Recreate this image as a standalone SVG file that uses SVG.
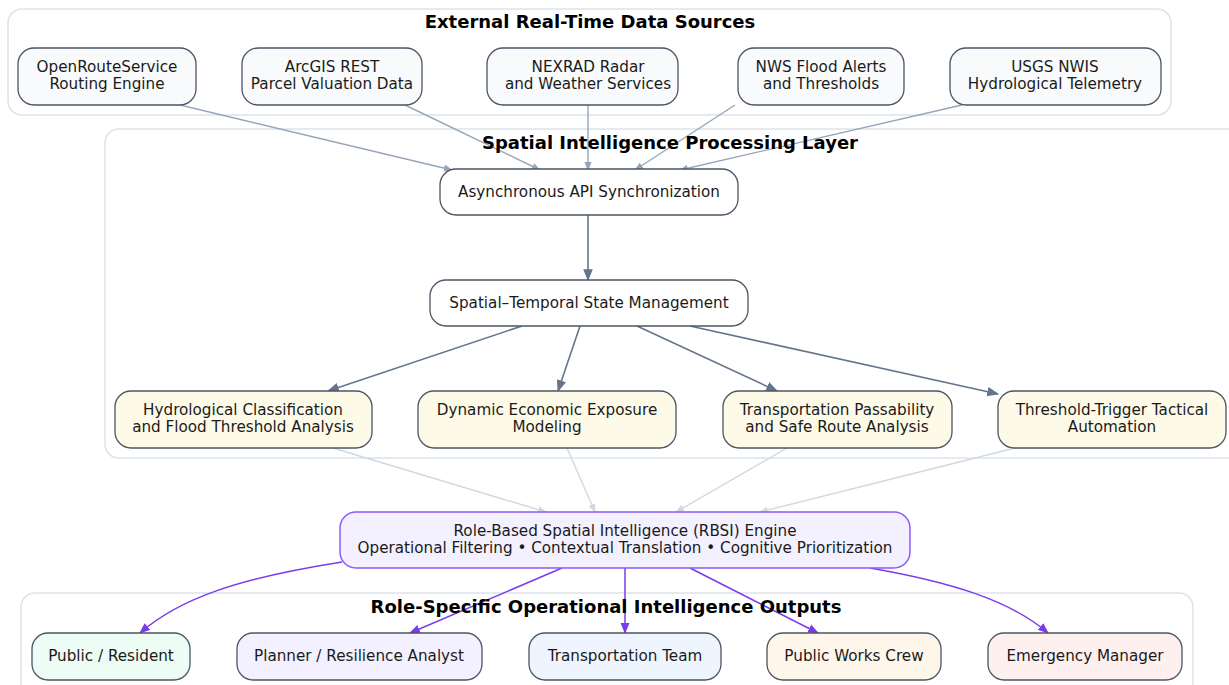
<svg xmlns="http://www.w3.org/2000/svg" width="1229" height="685" viewBox="0 0 1229 685">
<defs>
<style>
text{font-family:"DejaVu Sans",Verdana,sans-serif;font-size:15.2px;fill:#1a1a1a;text-anchor:middle}
.title{font-weight:bold;font-size:18px;fill:#000}
.cl{fill:#fff;stroke:#dde3ea;stroke-width:1.5}
.n{stroke:#4b5563;stroke-width:1.3}
.src{fill:#f8fafc}
.proc{fill:#fff}
.ana{fill:#fefae8}
.rbsi{fill:#f3f0ff;stroke:#8b5cf6;stroke-width:1.5}
.e1{stroke:#97a5ba;stroke-width:1.4;fill:none;marker-end:url(#a1)}
.e2{stroke:#64748b;stroke-width:1.6;fill:none;marker-end:url(#a2)}
.e3{stroke:#cfd8e3;stroke-width:1.4;fill:none;marker-end:url(#a3)}
.e4{stroke:#7c3aed;stroke-width:1.5;fill:none;marker-end:url(#a4)}
</style>
<marker id="a1" viewBox="0 0 10 10" refX="9" refY="5" markerWidth="9" markerHeight="9" markerUnits="userSpaceOnUse" orient="auto"><path d="M0,1 L10,5 L0,9 z" fill="#97a5ba"/></marker>
<marker id="a2" viewBox="0 0 10 10" refX="9" refY="5" markerWidth="12" markerHeight="12" markerUnits="userSpaceOnUse" orient="auto"><path d="M0,1 L10,5 L0,9 z" fill="#64748b"/></marker>
<marker id="a3" viewBox="0 0 10 10" refX="9" refY="5" markerWidth="9" markerHeight="9" markerUnits="userSpaceOnUse" orient="auto"><path d="M0,1 L10,5 L0,9 z" fill="#cfd8e3"/></marker>
<marker id="a4" viewBox="0 0 10 10" refX="9" refY="5" markerWidth="11" markerHeight="11" markerUnits="userSpaceOnUse" orient="auto"><path d="M0,1 L10,5 L0,9 z" fill="#7c3aed"/></marker>
</defs>
<rect width="1229" height="685" fill="#fff"/>
<g id="clusters">
<rect class="cl" x="8" y="9" width="1163" height="106" rx="14"/>
<text class="title" x="590" y="28">External Real-Time Data Sources</text>
<rect class="cl" x="105" y="129" width="1140" height="329" rx="14"/>
<rect class="cl" x="21" y="593" width="1172" height="110" rx="14"/>
</g>
<g id="connectors">
<path class="e1" d="M180,105 L452,170"/>
<path class="e1" d="M405,105 L540,170"/>
<path class="e1" d="M588,105 L588,170"/>
<path class="e1" d="M735,105 L635,170"/>
<path class="e1" d="M962,105 L680,170"/>
<path class="e2" d="M588,215 L588,280"/>
<path class="e2" d="M522,326 L328,391"/>
<path class="e2" d="M580,326 L558,391"/>
<path class="e2" d="M637,326 L777,391"/>
<path class="e2" d="M690,326 L998,394"/>
<path class="e3" d="M333,448 L546,512"/>
<path class="e3" d="M567,448 L595,512"/>
<path class="e3" d="M787,448 L676,512"/>
<path class="e3" d="M1015,448 L760,512"/>
<path class="e4" d="M342,562 C240,578 180,598 140,633"/>
<path class="e4" d="M562,568 L410,633"/>
<path class="e4" d="M625,568 L625,633"/>
<path class="e4" d="M690,568 L818,633"/>
<path class="e4" d="M870,568 C950,582 1010,600 1048,633"/>
</g>
<text class="title" x="670" y="149">Spatial Intelligence Processing Layer</text>
<text class="title" x="606" y="613">Role-Specific Operational Intelligence Outputs</text>
<g id="src-ors"><rect class="n src" x="18" y="48" width="178" height="57" rx="16"/><text x="107" y="72">OpenRouteService</text><text x="107" y="89">Routing Engine</text></g>
<g id="src-arcgis"><rect class="n src" x="242" y="48" width="180" height="57" rx="16"/><text x="332" y="72">ArcGIS REST</text><text x="332" y="89">Parcel Valuation Data</text></g>
<g id="src-nexrad"><rect class="n src" x="487" y="48" width="191" height="57" rx="16"/><text x="588" y="72">NEXRAD Radar</text><text x="588" y="89">and Weather Services</text></g>
<g id="src-nws"><rect class="n src" x="738" y="48" width="166" height="57" rx="16"/><text x="821" y="72">NWS Flood Alerts</text><text x="821" y="89">and Thresholds</text></g>
<g id="src-usgs"><rect class="n src" x="950" y="48" width="211" height="57" rx="16"/><text x="1055" y="72">USGS NWIS</text><text x="1055" y="89">Hydrological Telemetry</text></g>
<g id="async"><rect class="n proc" x="440" y="169" width="298" height="46" rx="16"/><text x="589" y="197">Asynchronous API Synchronization</text></g>
<g id="state"><rect class="n proc" x="430" y="280" width="318" height="46" rx="16"/><text x="589" y="308">Spatial–Temporal State Management</text></g>
<g id="hydro"><rect class="n ana" x="115" y="391" width="257" height="57" rx="16"/><text x="243" y="415">Hydrological Classification</text><text x="243" y="432">and Flood Threshold Analysis</text></g>
<g id="econ"><rect class="n ana" x="418" y="391" width="258" height="57" rx="16"/><text x="547" y="415">Dynamic Economic Exposure</text><text x="547" y="432">Modeling</text></g>
<g id="transp"><rect class="n ana" x="723" y="391" width="229" height="57" rx="16"/><text x="837" y="415">Transportation Passability</text><text x="837" y="432">and Safe Route Analysis</text></g>
<g id="trigger"><rect class="n ana" x="998" y="391" width="228" height="57" rx="16"/><text x="1112" y="415">Threshold-Trigger Tactical</text><text x="1112" y="432">Automation</text></g>
<g id="rbsi"><rect class="rbsi" x="340" y="512" width="570" height="56" rx="16"/><text x="625" y="536">Role-Based Spatial Intelligence (RBSI) Engine</text><text x="625" y="553">Operational Filtering • Contextual Translation • Cognitive Prioritization</text></g>
<g id="out-public"><rect class="n" fill="#edfdf5" x="32" y="633" width="158" height="47" rx="16"/><text x="111" y="661">Public / Resident</text></g>
<g id="out-planner"><rect class="n" fill="#f3f1ff" x="237" y="633" width="245" height="47" rx="16"/><text x="359" y="661">Planner / Resilience Analyst</text></g>
<g id="out-transp"><rect class="n" fill="#eef5ff" x="529" y="633" width="192" height="47" rx="16"/><text x="625" y="661">Transportation Team</text></g>
<g id="out-works"><rect class="n" fill="#fff6eb" x="767" y="633" width="174" height="47" rx="16"/><text x="854" y="661">Public Works Crew</text></g>
<g id="out-em"><rect class="n" fill="#fff0f0" x="988" y="633" width="194" height="47" rx="16"/><text x="1085" y="661">Emergency Manager</text></g>
</svg>
